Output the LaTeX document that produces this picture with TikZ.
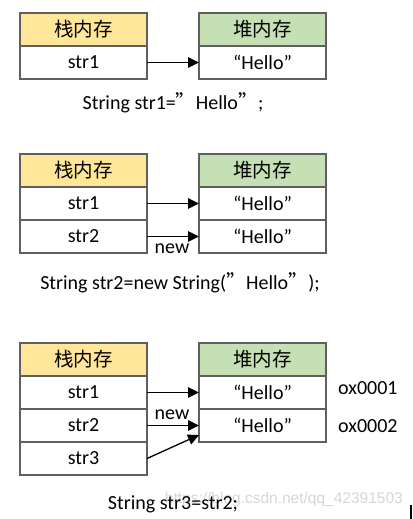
\documentclass[tikz,border=0pt]{standalone}
\usepackage{fontspec}
\setmainfont{Carlito}
\newfontfamily\cjk{Noto Sans CJK SC}
\newfontfamily\wmfont{Liberation Sans}
\usetikzlibrary{arrows.meta}
\definecolor{stackfill}{HTML}{FFE699}
\definecolor{heapfill}{HTML}{C5E0B4}
\definecolor{edgegray}{HTML}{5F5F5F}
\newcommand{\fq}{{\cjk ”}}
\begin{document}
\begin{tikzpicture}[x=1pt,y=-1pt,
  cell/.style={draw=edgegray,line width=1.2pt,fill=white,minimum width=127pt,minimum height=33pt,
    inner sep=0pt,outer sep=0pt,anchor=north west,font=\fontsize{20}{22}\selectfont},
  stackhead/.style={cell,fill=stackfill,font=\cjk\fontsize{19.5}{22}\selectfont},
  heaphead/.style={cell,fill=heapfill,font=\cjk\fontsize{19.5}{22}\selectfont},
  ptr/.style={-{Triangle[length=11pt,width=10.5pt]},line width=1.3pt},
  lbl/.style={font=\fontsize{20}{22}\selectfont,inner sep=0pt},
  wm/.style={font=\wmfont\fontsize{15.5}{18}\selectfont,text=black!16,inner sep=0pt}
]
\useasboundingbox (0,0) rectangle (412,519);

% ---------- diagram 1 ----------
\node[stackhead] (sa0) at (20,13) {栈内存};
\node[cell] (sa1) at (20,46) {str1};
\node[heaphead] (ha0) at (199,13) {堆内存};
\node[cell] (ha1) at (199,46) {“Hello”};
\draw[ptr] (sa1.east) -- (ha1.west);
\node[lbl] (capa) at (173,103) {String str1=\fq Hello\fq;};

% ---------- diagram 2 ----------
\node[stackhead] (sb0) at (20,154) {栈内存};
\node[cell] (sb1) at (20,187) {str1};
\node[cell] (sb2) at (20,220) {str2};
\node[heaphead] (hb0) at (199,154) {堆内存};
\node[cell] (hb1) at (199,187) {“Hello”};
\node[cell] (hb2) at (199,220) {“Hello”};
\draw[ptr] (sb1.east) -- (hb1.west);
\draw[ptr] (sb2.east) -- (hb2.west);
\node[lbl] (newb) at (172,249) {new};
\node[lbl] (capb) at (180,283) {String str2=new String(\fq Hello\fq);};

% ---------- diagram 3 ----------
\node[stackhead] (sc0) at (20,343) {栈内存};
\node[cell] (sc1) at (20,376) {str1};
\node[cell] (sc2) at (20,409) {str2};
\node[cell] (sc3) at (20,442) {str3};
\node[heaphead] (hc0) at (199,343) {堆内存};
\node[cell] (hc1) at (199,376) {“Hello”};
\node[cell] (hc2) at (199,409) {“Hello”};
\draw[ptr] (sc1.east) -- (hc1.west);
\draw[ptr] (sc2.east) -- (hc2.west);
\draw[ptr] (sc3.east) -- ([yshift=7pt]hc2.south west);
\node[lbl] (newc) at (172,415) {new};
\node[lbl,anchor=west] (adr1) at (338,388) {ox0001};
\node[lbl,anchor=west] (adr2) at (338,426) {ox0002};
\node[wm,anchor=east] (mark) at (403,499) {https://blog.csdn.net/qq\_42391503};
\node[lbl] (capc) at (173,504) {String str3=str2;};
\fill (410,505) rectangle (412,519);
\end{tikzpicture}
\end{document}
